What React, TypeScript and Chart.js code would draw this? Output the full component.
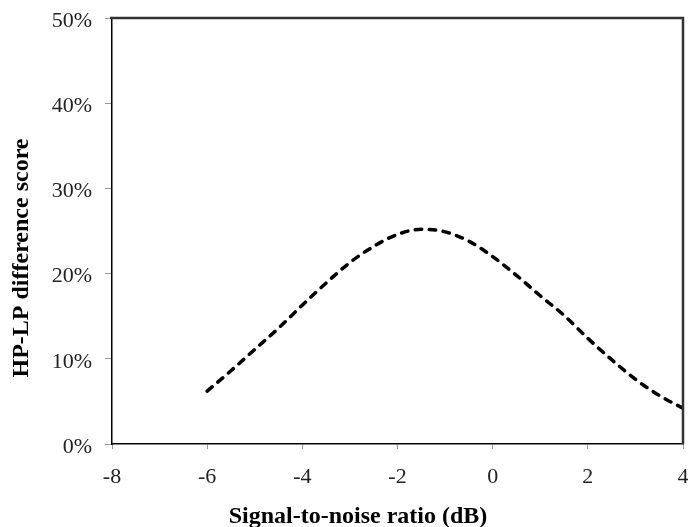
import React, { useEffect, useRef } from "react";
import { Chart, registerables } from "chart.js";

Chart.register(...registerables);

// SNR (dB) and HP-LP difference score (%)
const snrValues = [-6, -5.5, -5, -4.5, -4, -3.5, -3, -2.5, -2, -1.5, -1, -0.5, 0, 0.5, 1, 1.5, 2, 2.5, 3, 3.5, 4];
const diffScores = [6.2, 8.6, 11.1, 13.6, 16.3, 18.9, 21.3, 23.2, 24.6, 25.2, 24.9, 23.8, 22.0, 19.8, 17.4, 15.1, 12.4, 9.9, 7.6, 5.7, 4.2];

const xTicks = [-8, -6, -4, -2, 0, 2, 4];
const yTicks = [0, 10, 20, 30, 40, 50];

const xTitle = "Signal-to-noise ratio (dB)";
const yTitle = "HP-LP difference score";

const FONT = "'Liberation Serif', 'Times New Roman', serif";

export default function App() {
  const ref = useRef<HTMLCanvasElement | null>(null);

  useEffect(() => {
    document.body.style.margin = "0";
    const canvas = ref.current;
    if (!canvas) return;

    const framePlugin = {
      id: "frameAndTitles",
      afterDraw(chart: any) {
        const { ctx, chartArea } = chart;
        const { left, right, top, bottom } = chartArea;
        ctx.save();
        // top and right frame lines
        ctx.strokeStyle = "#333333";
        ctx.lineWidth = 2.5;
        ctx.beginPath();
        ctx.moveTo(left - 2, top);
        ctx.lineTo(right, top);
        ctx.lineTo(right, bottom);
        ctx.stroke();

        // axis titles
        ctx.fillStyle = "#000000";
        ctx.font = `bold 24px ${FONT}`;
        ctx.textAlign = "center";
        ctx.textBaseline = "middle";
        ctx.fillText(xTitle, 358, 517);
        ctx.translate(22, 258);
        ctx.rotate(-Math.PI / 2);
        ctx.fillText(yTitle, 0, 0);
        ctx.restore();
      },
    };

    const chart = new Chart(canvas, {
      type: "line",
      data: {
        datasets: [
          {
            data: snrValues.map((x, i) => ({ x, y: diffScores[i] })),
            borderColor: "#000000",
            borderWidth: 3.5,
            borderDash: [6.5, 7.5],
            borderCapStyle: "round",
            pointRadius: 0,
            fill: false,
            tension: 0.4,
            cubicInterpolationMode: "monotone",
          },
        ],
      },
      options: {
        responsive: false,
        animation: false,
        layout: { padding: { left: 0, right: 5, top: 18, bottom: 0 } },
        plugins: {
          legend: { display: false },
          tooltip: { enabled: false },
        },
        scales: {
          x: {
            type: "linear",
            min: -8,
            max: 4,
            afterBuildTicks: (scale: any) => {
              scale.ticks = xTicks.map((v) => ({ value: v }));
            },
            afterFit: (scale: any) => {
              scale.height = 83;
              scale.paddingLeft = 0;
              scale.paddingRight = 0;
            },
            grid: {
              drawOnChartArea: false,
              drawTicks: true,
              tickLength: 5,
              color: "#999999",
            },
            border: { display: true, color: "#000000", width: 1.5 },
            ticks: {
              color: "#222222",
              font: { family: FONT, size: 22 },
              padding: 15,
              maxRotation: 0,
              callback: (v: any) => String(v),
            },
          },
          y: {
            type: "linear",
            min: 0,
            max: 50,
            afterBuildTicks: (scale: any) => {
              scale.ticks = yTicks.map((v) => ({ value: v }));
            },
            afterFit: (scale: any) => {
              scale.width = 112;
              scale.paddingTop = 0;
              scale.paddingBottom = 0;
            },
            grid: {
              drawOnChartArea: false,
              drawTicks: true,
              tickLength: 7,
              color: "#999999",
            },
            border: { display: true, color: "#000000", width: 1.5 },
            ticks: {
              color: "#222222",
              font: { family: FONT, size: 22 },
              padding: 13,
              labelOffset: 3,
              callback: (v: any) => `${v}%`,
            },
          },
        },
      },
      plugins: [framePlugin],
    } as any);

    return () => chart.destroy();
  }, []);

  return <canvas ref={ref} width={688} height={527} style={{ display: "block" }} />;
}
